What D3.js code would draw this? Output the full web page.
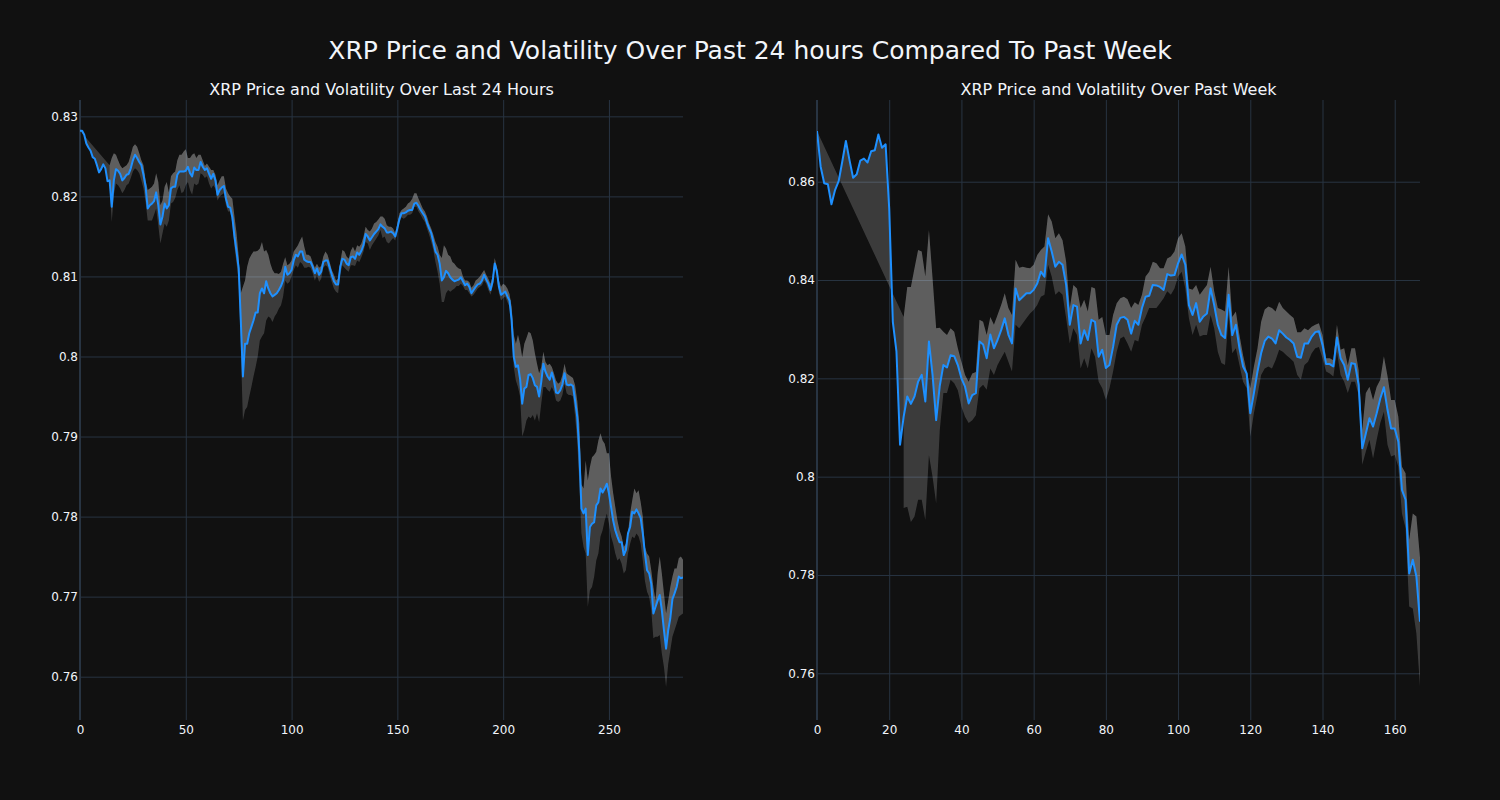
<!DOCTYPE html>
<html><head><meta charset="utf-8">
<script src="https://cdn.jsdelivr.net/npm/d3@7"></script>
<style>body{margin:0;background:#111111;} svg{display:block;font-family:"DejaVu Sans",sans-serif;}</style>
</head><body><svg id="c" width="1500" height="800"></svg>
<script>
// ---------- DATA ----------
const mainTitle = "XRP Price and Volatility Over Past 24 hours Compared To Past Week";
const leftTitle = "XRP Price and Volatility Over Last 24 Hours";
const rightTitle = "XRP Price and Volatility Over Past Week";

const leftXTicks = [0, 50, 100, 150, 200, 250];
const leftYTicks = [0.76, 0.77, 0.78, 0.79, 0.80, 0.81, 0.82, 0.83];
const rightXTicks = [0, 20, 40, 60, 80, 100, 120, 140, 160];
const rightYTicks = [0.76, 0.78, 0.80, 0.82, 0.84, 0.86];

const leftPrice = [
0.8282,0.8282,0.8277,0.8266,0.8261,0.8257,0.8249,0.8247,0.8239,0.8230,0.8234,0.8240,0.8235,0.8219,
0.8220,0.8187,0.8220,0.8234,0.8232,0.8228,0.8220,0.8223,0.8227,0.8228,0.8235,0.8245,0.8252,0.8248,0.8243,0.8239,
0.8227,0.8212,0.8185,0.8189,0.8191,0.8194,0.8205,0.8189,0.8165,0.8175,0.8191,0.8185,0.8189,0.8210,0.8212,0.8212,0.8227,0.8231,0.8231,0.8231,
0.8232,0.8237,0.8229,0.8225,0.8236,0.8233,0.8233,0.8243,0.8237,0.8233,0.8235,0.8228,0.8222,0.8228,0.8220,0.8202,0.8208,0.8211,0.8213,0.8197,
0.8187,0.8186,0.8174,0.8150,0.8131,0.8110,0.8045,0.7975,0.8016,0.8016,0.8029,0.8037,0.8045,0.8055,0.8055,0.8079,0.8085,0.8079,0.8094,0.8085,
0.8079,0.8075,0.8077,0.8079,0.8083,0.8088,0.8095,0.8112,0.8102,0.8104,0.8108,0.8120,0.8127,0.8125,0.8131,0.8131,0.8121,0.8119,0.8118,0.8118,
0.8112,0.8104,0.8110,0.8102,0.8106,0.8118,0.8120,0.8120,0.8111,0.8102,0.8094,0.8090,0.8090,0.8112,0.8122,0.8121,0.8116,0.8114,0.8124,0.8125,
0.8122,0.8130,0.8127,0.8132,0.8139,0.8153,0.8150,0.8145,0.8149,0.8153,0.8156,0.8159,0.8165,0.8162,0.8160,0.8155,0.8155,0.8156,0.8154,0.8150,
0.8160,0.8172,0.8179,0.8179,0.8180,0.8182,0.8183,0.8183,0.8191,0.8192,0.8188,0.8183,0.8179,0.8175,0.8167,0.8160,0.8154,0.8143,0.8131,0.8127,
0.8116,0.8095,0.8099,0.8107,0.8104,0.8099,0.8096,0.8094,0.8095,0.8096,0.8099,0.8094,0.8089,0.8091,0.8087,0.8079,0.8083,0.8087,0.8090,0.8091,
0.8095,0.8102,0.8096,0.8091,0.8083,0.8093,0.8116,0.8107,0.8087,0.8077,0.8079,0.8081,0.8075,0.8070,0.8045,0.8000,0.7987,0.7989,0.7972,0.7941,
0.7960,0.7962,0.7977,0.7978,0.7973,0.7964,0.7962,0.7950,0.7968,0.7991,0.7981,0.7975,0.7971,0.7980,0.7970,0.7955,0.7954,0.7958,0.7965,0.7979,
0.7965,0.7964,0.7965,0.7963,0.7945,0.7925,0.7880,0.7810,0.7804,0.7810,0.7752,0.7787,0.7791,0.7793,0.7814,0.7818,0.7835,0.7830,0.7835,0.7841,
0.7829,0.7812,0.7795,0.7783,0.7775,0.7768,0.7768,0.7752,0.7758,0.7779,0.7787,0.7806,0.7804,0.7809,0.7804,0.7798,0.7779,0.7754,0.7733,0.7729,
0.7716,0.7679,0.7687,0.7695,0.7702,0.7683,0.7658,0.7635,0.7658,0.7673,0.7697,0.7704,0.7712,0.7725,0.7723,0.7724];

const leftBandStart = 14;
const leftUpper = [
0.8239,0.8248,0.8254,0.8252,0.8245,0.8239,0.8235,0.8237,0.8239,0.8243,0.8252,0.8262,0.8265,0.8262,0.8254,0.8245,
0.8239,0.8220,0.8208,0.8210,0.8212,0.8216,0.8229,0.8218,0.8189,0.8195,0.8212,0.8218,0.8205,0.8225,0.8229,0.8231,0.8245,0.8252,0.8252,0.8256,
0.8259,0.8248,0.8248,0.8252,0.8254,0.8248,0.8252,0.8252,0.8245,0.8238,0.8241,0.8237,0.8233,0.8233,0.8227,0.8214,0.8220,0.8225,0.8225,0.8210,
0.8204,0.8200,0.8197,0.8175,0.8154,0.8125,0.8079,0.8087,0.8095,0.8112,0.8122,0.8127,0.8131,0.8131,0.8132,0.8135,0.8143,0.8131,0.8133,0.8127,
0.8116,0.8108,0.8104,0.8104,0.8103,0.8106,0.8116,0.8124,0.8114,0.8116,0.8120,0.8131,0.8135,0.8139,0.8145,0.8150,0.8137,0.8127,0.8127,0.8125,
0.8117,0.8111,0.8116,0.8111,0.8113,0.8125,0.8131,0.8127,0.8118,0.8108,0.8102,0.8095,0.8097,0.8118,0.8133,0.8131,0.8125,0.8122,0.8132,0.8137,
0.8131,0.8139,0.8137,0.8141,0.8150,0.8162,0.8158,0.8156,0.8160,0.8166,0.8168,0.8171,0.8175,0.8175,0.8172,0.8164,0.8162,0.8162,0.8160,0.8154,
0.8166,0.8179,0.8183,0.8185,0.8187,0.8191,0.8193,0.8197,0.8204,0.8204,0.8197,0.8191,0.8185,0.8181,0.8175,0.8166,0.8160,0.8152,0.8143,0.8137,
0.8127,0.8123,0.8139,0.8135,0.8127,0.8125,0.8118,0.8116,0.8112,0.8110,0.8109,0.8100,0.8095,0.8095,0.8093,0.8086,0.8089,0.8095,0.8097,0.8100,
0.8104,0.8108,0.8102,0.8097,0.8091,0.8100,0.8123,0.8112,0.8095,0.8087,0.8091,0.8089,0.8085,0.8078,0.8062,0.8027,0.8016,0.8027,0.8016,0.7999,
0.8016,0.8023,0.8031,0.8029,0.8020,0.8004,0.7991,0.7979,0.7987,0.8006,0.7993,0.7989,0.7991,0.7987,0.7979,0.7970,0.7966,0.7968,0.7977,0.7991,
0.7979,0.7977,0.7975,0.7973,0.7964,0.7945,0.7916,0.7840,0.7835,0.7870,0.7845,0.7862,0.7874,0.7877,0.7881,0.7895,0.7904,0.7895,0.7891,0.7879,
0.7879,0.7850,0.7829,0.7812,0.7795,0.7783,0.7775,0.7762,0.7766,0.7779,0.7804,0.7820,0.7835,0.7829,0.7833,0.7818,0.7800,0.7762,0.7754,0.7750,
0.7733,0.7712,0.7695,0.7729,0.7750,0.7729,0.7704,0.7679,0.7695,0.7712,0.7725,0.7735,0.7735,0.7748,0.7750,0.7746];
const leftLower = [
0.8214,0.8168,0.8202,0.8216,0.8214,0.8210,0.8204,0.8208,0.8214,0.8216,0.8223,0.8231,0.8235,0.8233,0.8229,0.8220,
0.8210,0.8193,0.8170,0.8170,0.8170,0.8177,0.8185,0.8164,0.8141,0.8154,0.8166,0.8162,0.8170,0.8191,0.8193,0.8198,0.8208,0.8214,0.8204,0.8206,
0.8214,0.8218,0.8208,0.8202,0.8216,0.8214,0.8216,0.8229,0.8227,0.8223,0.8225,0.8216,0.8210,0.8214,0.8210,0.8195,0.8200,0.8202,0.8204,0.8189,
0.8181,0.8181,0.8166,0.8137,0.8116,0.8095,0.8012,0.7920,0.7933,0.7937,0.7950,0.7962,0.7975,0.7987,0.8000,0.8020,0.8025,0.8029,0.8045,0.8050,
0.8048,0.8043,0.8050,0.8054,0.8060,0.8064,0.8075,0.8095,0.8091,0.8093,0.8100,0.8108,0.8114,0.8111,0.8118,0.8116,0.8111,0.8111,0.8112,0.8111,
0.8104,0.8095,0.8102,0.8093,0.8097,0.8111,0.8114,0.8112,0.8102,0.8093,0.8085,0.8081,0.8079,0.8102,0.8114,0.8111,0.8108,0.8106,0.8114,0.8114,
0.8113,0.8120,0.8118,0.8124,0.8131,0.8143,0.8141,0.8133,0.8139,0.8143,0.8147,0.8151,0.8158,0.8148,0.8150,0.8143,0.8141,0.8145,0.8148,0.8145,
0.8156,0.8168,0.8174,0.8172,0.8174,0.8177,0.8177,0.8179,0.8187,0.8187,0.8181,0.8177,0.8172,0.8168,0.8160,0.8152,0.8143,0.8133,0.8118,0.8106,
0.8091,0.8068,0.8068,0.8079,0.8083,0.8081,0.8083,0.8085,0.8088,0.8088,0.8091,0.8088,0.8083,0.8083,0.8079,0.8075,0.8077,0.8081,0.8085,0.8087,
0.8089,0.8095,0.8091,0.8083,0.8077,0.8087,0.8110,0.8100,0.8079,0.8070,0.8073,0.8075,0.8068,0.8062,0.8037,0.7987,0.7970,0.7962,0.7950,0.7900,
0.7908,0.7920,0.7925,0.7923,0.7927,0.7920,0.7929,0.7918,0.7941,0.7962,0.7962,0.7958,0.7956,0.7962,0.7956,0.7945,0.7943,0.7945,0.7952,0.7966,
0.7954,0.7952,0.7952,0.7950,0.7925,0.7895,0.7841,0.7779,0.7762,0.7754,0.7687,0.7708,0.7712,0.7725,0.7745,0.7754,0.7775,0.7783,0.7795,0.7804,
0.7791,0.7775,0.7766,0.7754,0.7745,0.7748,0.7741,0.7729,0.7733,0.7754,0.7766,0.7775,0.7773,0.7779,0.7775,0.7766,0.7745,0.7720,0.7706,0.7700,
0.7683,0.7648,0.7650,0.7650,0.7652,0.7629,0.7612,0.7587,0.7616,0.7633,0.7650,0.7658,0.7666,0.7675,0.7677,0.7679];

const rightPrice = [
0.8703,0.8631,0.8597,0.8595,0.8554,0.8583,0.8601,0.8641,0.8683,0.8644,0.8608,0.8615,0.8643,0.8647,0.8639,0.8662,0.8664,0.8696,0.8669,0.8676,
0.8545,0.8315,0.8255,0.8065,0.8122,0.8163,0.8148,0.8163,0.8193,0.8207,0.8153,0.8275,0.8207,0.8115,0.8185,0.8227,0.8222,0.8247,0.8245,0.8227,
0.8200,0.8183,0.8149,0.8166,0.8170,0.8275,0.8269,0.8241,0.8289,0.8261,0.8278,0.8298,0.8322,0.8289,0.8271,0.8383,0.8359,0.8366,0.8373,0.8373,
0.8380,0.8393,0.8417,0.8407,0.8485,0.8458,0.8427,0.8437,0.8431,0.8390,0.8309,0.8349,0.8346,0.8271,0.8298,0.8278,0.8319,0.8315,0.8244,0.8258,
0.8221,0.8227,0.8264,0.8309,0.8323,0.8325,0.8319,0.8291,0.8317,0.8309,0.8343,0.8366,0.8368,0.8390,0.8389,0.8386,0.8380,0.8412,0.8409,0.8410,
0.8434,0.8452,0.8431,0.8349,0.8329,0.8353,0.8315,0.8326,0.8332,0.8383,0.8349,0.8309,0.8288,0.8282,0.8370,0.8288,0.8309,0.8261,0.8224,0.8210,
0.8129,0.8170,0.8214,0.8251,0.8276,0.8285,0.8281,0.8271,0.8298,0.8291,0.8283,0.8278,0.8271,0.8244,0.8242,0.8271,0.8271,0.8285,0.8294,0.8296,
0.8268,0.8229,0.8229,0.8224,0.8283,0.8241,0.8227,0.8197,0.8231,0.8229,0.8187,0.8058,0.8088,0.8119,0.8102,0.8129,0.8159,0.8182,0.8136,0.8098,
0.8098,0.8071,0.7973,0.7953,0.7803,0.7831,0.7797,0.7705];

const rightBandStart = 24;
const rightUpper = [
0.8325,0.8386,0.8386,0.8424,0.8461,0.8458,0.8407,0.8502,0.8404,0.8302,0.8303,0.8295,0.8288,0.8302,0.8295,0.8261,
0.8234,0.8207,0.8193,0.8210,0.8213,0.8319,0.8315,0.8288,0.8325,0.8309,0.8329,0.8349,0.8373,0.8343,0.8329,0.8441,0.8425,0.8427,0.8425,0.8424,
0.8431,0.8451,0.8461,0.8468,0.8534,0.8519,0.8485,0.8495,0.8481,0.8437,0.8343,0.8390,0.8383,0.8343,0.8360,0.8336,0.8386,0.8383,0.8319,0.8325,
0.8288,0.8288,0.8329,0.8353,0.8363,0.8366,0.8361,0.8343,0.8355,0.8349,0.8370,0.8407,0.8417,0.8437,0.8434,0.8424,0.8424,0.8444,0.8448,0.8458,
0.8485,0.8495,0.8468,0.8383,0.8380,0.8390,0.8370,0.8380,0.8390,0.8427,0.8377,0.8343,0.8340,0.8336,0.8427,0.8325,0.8336,0.8288,0.8247,0.8214,
0.8180,0.8224,0.8261,0.8315,0.8340,0.8346,0.8343,0.8336,0.8356,0.8343,0.8336,0.8329,0.8323,0.8294,0.8294,0.8302,0.8298,0.8305,0.8309,0.8312,
0.8288,0.8241,0.8241,0.8237,0.8309,0.8258,0.8261,0.8226,0.8261,0.8261,0.8217,0.8095,0.8170,0.8183,0.8156,0.8183,0.8197,0.8245,0.8205,0.8156,
0.8156,0.8122,0.8020,0.8007,0.7871,0.7925,0.7919,0.7835];
const rightLower = [
0.7936,0.7939,0.7908,0.7919,0.7953,0.7953,0.7912,0.8044,0.8000,0.7946,0.8095,0.8170,0.8170,0.8197,0.8190,0.8176,
0.8142,0.8122,0.8109,0.8115,0.8125,0.8180,0.8187,0.8177,0.8220,0.8207,0.8227,0.8241,0.8254,0.8234,0.8214,0.8309,0.8302,0.8312,0.8322,0.8332,
0.8339,0.8349,0.8366,0.8370,0.8431,0.8407,0.8370,0.8377,0.8370,0.8322,0.8271,0.8302,0.8288,0.8220,0.8241,0.8220,0.8261,0.8244,0.8193,0.8180,
0.8156,0.8180,0.8214,0.8254,0.8281,0.8285,0.8271,0.8254,0.8278,0.8275,0.8309,0.8325,0.8343,0.8343,0.8343,0.8353,0.8363,0.8377,0.8370,0.8383,
0.8407,0.8417,0.8383,0.8322,0.8288,0.8309,0.8285,0.8288,0.8288,0.8329,0.8302,0.8254,0.8231,0.8227,0.8329,0.8251,0.8261,0.8227,0.8193,0.8180,
0.8081,0.8129,0.8166,0.8207,0.8220,0.8224,0.8220,0.8237,0.8258,0.8254,0.8247,0.8241,0.8234,0.8207,0.8197,0.8227,0.8234,0.8251,0.8261,0.8264,
0.8241,0.8214,0.8210,0.8204,0.8254,0.8207,0.8193,0.8170,0.8193,0.8193,0.8166,0.8024,0.8051,0.8075,0.8037,0.8075,0.8109,0.8132,0.8065,0.8041,
0.8044,0.8020,0.7925,0.7895,0.7736,0.7732,0.7681,0.7573];

// ---------- DRAW ----------
const W = 1500, H = 800;
const TOP = 100, BOTTOM = 720;
const FONT = '"DejaVu Sans", sans-serif';
const svg = d3.select('#c');
svg.append('rect').attr('width', W).attr('height', H).attr('fill', '#111111');

const fmt = d => String(+d.toFixed(2));
const GRID = '#283442', TXT = '#f2f5fa';
const FILL = 'rgba(255,255,255,0.18)';

function panel(price, upper, lower, bandStart, xTicks, yTicks, xDom, yDom, x0, x1, title) {
  const x = d3.scaleLinear().domain(xDom).range([x0, x1]);
  const y = d3.scaleLinear().domain(yDom).range([BOTTOM, TOP]);
  const g = svg.append('g');

  const gx = g.append('g').attr('transform', `translate(0,${BOTTOM})`)
    .call(d3.axisBottom(x).tickValues(xTicks).tickSize(-(BOTTOM - TOP)).tickPadding(5).tickFormat(d3.format('d')));
  const gy = g.append('g').attr('transform', `translate(${x0},0)`)
    .call(d3.axisLeft(y).tickValues(yTicks).tickSize(-(x1 - x0)).tickPadding(2).tickFormat(fmt));
  [gx, gy].forEach(a => {
    a.select('.domain').remove();
    a.selectAll('line').attr('stroke', GRID).attr('stroke-width', 1);
    a.selectAll('text').attr('fill', TXT).style('font-size', '12px').style('font-family', FONT);
  });
  // zero line
  g.append('line').attr('x1', x(0)).attr('x2', x(0)).attr('y1', TOP).attr('y2', BOTTOM)
    .attr('stroke', GRID).attr('stroke-width', 2);

  const pts = price.map((v, i) => [i, v]);
  const up = upper.map((v, i) => [i + bandStart, v]);
  const lo = lower.map((v, i) => [i + bandStart, v]);

  const line = d3.line().x(d => x(d[0])).y(d => y(d[1]));
  const clipId = 'clip' + Math.round(x0);
  svg.append('clipPath').attr('id', clipId).append('rect')
    .attr('x', x0).attr('y', TOP).attr('width', x1 - x0).attr('height', BOTTOM - TOP);
  const pg = g.append('g').attr('clip-path', `url(#${clipId})`);

  // fill between price and upper band (tonexty)
  pg.append('path').attr('d', line(up.concat(pts.slice().reverse())) + 'Z')
    .attr('fill', FILL).attr('stroke', 'none');
  // fill between upper and lower band
  const area = d3.area().x(d => x(d[0])).y1(d => y(d[1])).y0((d, i) => y(lo[i][1]));
  pg.append('path').attr('d', area(up)).attr('fill', FILL).attr('stroke', 'none');
  // price line
  pg.append('path').attr('d', line(pts)).attr('fill', 'none')
    .attr('stroke', '#1E90FF').attr('stroke-width', 2).attr('stroke-linejoin', 'round');

  svg.append('text').attr('x', (x0 + x1) / 2).attr('y', 89).attr('text-anchor', 'middle')
    .attr('dominant-baseline', 'central').attr('fill', TXT)
    .style('font-size', '16px').style('font-family', FONT).text(title);
}

panel(leftPrice, leftUpper, leftLower, leftBandStart, leftXTicks, leftYTicks,
  [0, 285], [0.75459, 0.83204], 80, 683, leftTitle);
panel(rightPrice, rightUpper, rightLower, rightBandStart, rightXTicks, rightYTicks,
  [0, 167], [0.75050, 0.87662], 817, 1420, rightTitle);

svg.append('text').attr('x', 750).attr('y', 50).attr('text-anchor', 'middle')
  .attr('dominant-baseline', 'central').attr('fill', TXT)
  .style('font-size', '25px').style('font-family', FONT).text(mainTitle);
</script></body></html>
